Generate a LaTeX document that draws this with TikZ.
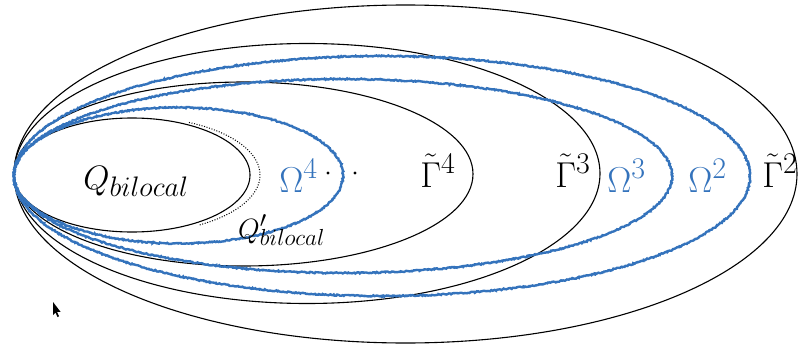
\documentclass[tikz,border=0pt]{standalone}
\usetikzlibrary{decorations.pathmorphing}
\definecolor{omblue}{RGB}{52,115,188}
\begin{document}
\begin{tikzpicture}[x=1pt,y=-1pt,
  setline/.style={black,line width=1.1pt},
  omline/.style={omblue,line width=2.4pt,decorate,
    decoration={random steps,segment length=1.2pt,amplitude=0.65pt}},
  lab/.style={inner sep=0pt,anchor=base west,font=\Huge,scale=1.447},
  qlabstyle/.style={inner sep=0pt,anchor=base west,font=\Huge,scale=1.36},
  smalllab/.style={inner sep=0pt,anchor=base west,font=\Huge,scale=1.12},
  dotmark/.style={circle,fill=black,inner sep=1.2pt}]
\useasboundingbox (0,0) rectangle (798,345);
% centres
\coordinate (cq) at (132,175);
\coordinate (cqp) at (137,175);
\coordinate (co4) at (178.5,175.5);
\coordinate (cg4) at (243.5,174);
\coordinate (co3) at (343,176);
\coordinate (cg3) at (307,173.5);
\coordinate (co2) at (382,176);
\coordinate (cg2) at (405.5,174);
% black sets
\draw[setline] (cg2) ellipse[x radius=391.5,y radius=169];
\draw[setline] (cg3) ellipse[x radius=293,y radius=130];
\draw[setline] (cg4) ellipse[x radius=229.5,y radius=92];
\draw[setline] (cq) ellipse[x radius=118,y radius=57];
\draw[black,line width=1pt,dash pattern=on 1pt off 1.6pt]
  (cqp) ++(-65:123 and 58) arc[start angle=-65,end angle=60,x radius=123,y radius=58];
% blue sets
\draw[omline] (co2) ellipse[x radius=368,y radius=120];
\draw[omline] (co3) ellipse[x radius=329,y radius=97];
\draw[omline] (co4) ellipse[x radius=164.5,y radius=68];
% labels
\node[qlabstyle] (qlab) at (83,189) {$Q_{bilocal}$};
\node[smalllab] (qplab) at (238,238) {$Q'_{bilocal}$};
\node[lab,text=omblue] (o4lab) at (279,192) {$\Omega^4$};
\node[dotmark] (d1) at (328,173) {};
\node[dotmark] (d2) at (355,173) {};
\node[lab] (g4lab) at (420,187) {$\tilde{\Gamma}^4$};
\node[lab] (g3lab) at (555,187) {$\tilde{\Gamma}^3$};
\node[lab,text=omblue] (o3lab) at (607,192) {$\Omega^3$};
\node[lab,text=omblue] (o2lab) at (688,192) {$\Omega^2$};
\node[lab] (g2lab) at (762,187) {$\tilde{\Gamma}^2$};
% cursor
\fill[black] (53,302) -- (53,315) -- (55.5,312.5) -- (57.5,317) -- (59,316.3) -- (57,311.8) -- (60.5,311.8) -- cycle;
\end{tikzpicture}
\end{document}
